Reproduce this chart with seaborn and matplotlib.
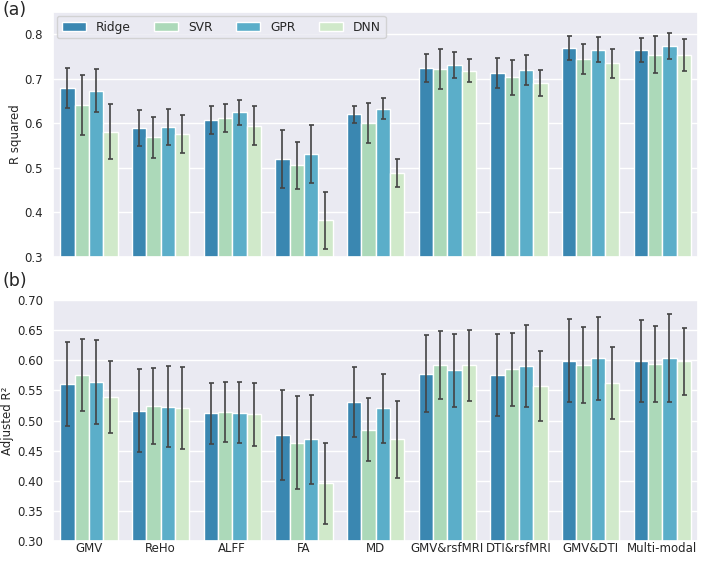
import matplotlib
matplotlib.use('Agg')
import matplotlib.pyplot as plt
import numpy as np
import pandas as pd
import seaborn as sns

# Data
features = ['GMV', 'ReHo', 'ALFF', 'FA', 'MD', 'GMV&rsfMRI', 'DTI&rsfMRI', 'GMV&DTI', 'Multi-modal']
models = ['Ridge', 'SVR', 'GPR', 'DNN']
colors = ['#3a87b1', '#acd9b9', '#5baec9', '#d0e9ca']

# (a) R squared, mean and half-width of error bar
r2_ridge = [0.680, 0.589, 0.607, 0.521, 0.620, 0.724, 0.713, 0.769, 0.764]
r2_svr = [0.641, 0.569, 0.612, 0.506, 0.601, 0.722, 0.703, 0.745, 0.754]
r2_gpr = [0.673, 0.592, 0.625, 0.531, 0.633, 0.731, 0.720, 0.765, 0.774]
r2_dnn = [0.581, 0.576, 0.595, 0.382, 0.489, 0.718, 0.691, 0.735, 0.754]
r2_err_ridge = [0.045, 0.040, 0.031, 0.065, 0.020, 0.031, 0.034, 0.026, 0.027]
r2_err_svr = [0.068, 0.046, 0.032, 0.053, 0.044, 0.045, 0.039, 0.034, 0.041]
r2_err_gpr = [0.048, 0.040, 0.028, 0.065, 0.024, 0.030, 0.033, 0.028, 0.029]
r2_err_dnn = [0.062, 0.042, 0.044, 0.065, 0.032, 0.026, 0.029, 0.033, 0.036]

# (b) Adjusted R^2
adj_ridge = [0.561, 0.516, 0.512, 0.476, 0.530, 0.578, 0.575, 0.599, 0.598]
adj_svr = [0.575, 0.524, 0.514, 0.463, 0.485, 0.592, 0.585, 0.592, 0.594]
adj_gpr = [0.564, 0.523, 0.513, 0.469, 0.520, 0.583, 0.591, 0.603, 0.603]
adj_dnn = [0.539, 0.520, 0.510, 0.396, 0.469, 0.592, 0.558, 0.562, 0.598]
adj_err_ridge = [0.070, 0.069, 0.051, 0.074, 0.058, 0.064, 0.068, 0.069, 0.068]
adj_err_svr = [0.060, 0.063, 0.050, 0.077, 0.052, 0.056, 0.061, 0.063, 0.063]
adj_err_gpr = [0.069, 0.067, 0.051, 0.074, 0.058, 0.060, 0.068, 0.069, 0.073]
adj_err_dnn = [0.059, 0.068, 0.052, 0.067, 0.064, 0.059, 0.058, 0.060, 0.055]


def make_df(vals, errs):
    rows = []
    for m, v, e in zip(models, vals, errs):
        for f, vv, ee in zip(features, v, e):
            rows.append({'feature': f, 'model': m, 'value': vv, 'err': ee})
    return pd.DataFrame(rows)


df_a = make_df([r2_ridge, r2_svr, r2_gpr, r2_dnn],
               [r2_err_ridge, r2_err_svr, r2_err_gpr, r2_err_dnn])
df_b = make_df([adj_ridge, adj_svr, adj_gpr, adj_dnn],
               [adj_err_ridge, adj_err_svr, adj_err_gpr, adj_err_dnn])

sns.set_theme(style='darkgrid')
plt.rcParams['font.family'] = ['DejaVu Sans']

fig = plt.figure(figsize=(7.09, 5.65), dpi=100)
ax1 = fig.add_axes([0.0748, 0.5451, 0.9097, 0.4337])
ax2 = fig.add_axes([0.0748, 0.0425, 0.9097, 0.4265])


def draw(ax, df, ylim, yticks, ylabel):
    sns.barplot(data=df, x='feature', y='value', hue='model', order=features,
                hue_order=models, palette=colors, errorbar=None, width=0.8,
                saturation=1, ax=ax)
    # error bars at the bar centres, in patch order (hue-major)
    bars = [p for p in ax.patches if p.get_height() > 0][:len(df)]
    for p, (_, row) in zip(bars, df.iterrows()):
        ax.errorbar(p.get_x() + p.get_width() / 2, row['value'], yerr=row['err'],
                    fmt='none', ecolor='#444444', elinewidth=1.2, capsize=1.8, capthick=1.2)
    ax.set_xlim(-0.5, len(features) - 0.5)
    ax.set_ylim(*ylim)
    ax.set_yticks(yticks)
    ax.set_ylabel(ylabel, fontsize=8.5, labelpad=2)
    ax.set_xlabel('')
    ax.tick_params(axis='y', labelsize=8.5, pad=1.2)
    ax.tick_params(axis='x', labelsize=8.5, pad=0.5, length=0)


draw(ax1, df_a, (0.3, 0.85), [0.3, 0.4, 0.5, 0.6, 0.7, 0.8], 'R squared')
ax1.set_xticklabels([])
ax1.legend(loc='upper left', ncol=4, fontsize=8.8, frameon=True,
           borderaxespad=0.3, columnspacing=1.9, handlelength=2.0)

draw(ax2, df_b, (0.3, 0.7), np.arange(0.30, 0.701, 0.05), 'Adjusted R²')
ax2.set_yticklabels([f'{t:.2f}' for t in np.arange(0.30, 0.701, 0.05)])
ax2.get_legend().remove()

fig.text(0.004, 0.982, '(a)', fontsize=12.5, va='center')
fig.text(0.004, 0.502, '(b)', fontsize=12.5, va='center')

fig.savefig('out.png', dpi=100)
